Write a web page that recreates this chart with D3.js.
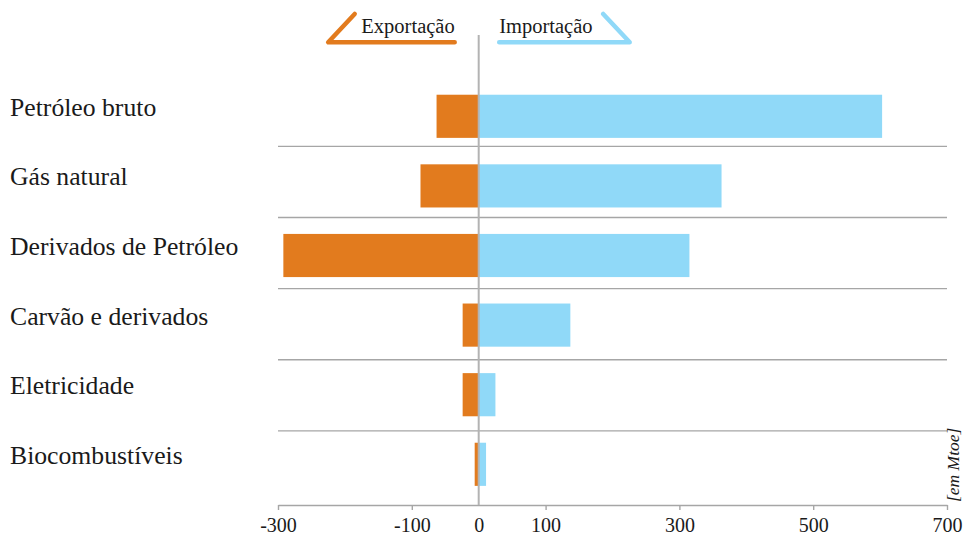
<!DOCTYPE html>
<html>
<head>
<meta charset="utf-8">
<script src="https://cdn.jsdelivr.net/npm/d3@7"></script>
<style>
  html, body { margin: 0; padding: 0; background: #fff; }
  svg { display: block; }
  text { font-family: "Liberation Serif", "Times New Roman", serif; fill: #1a1a1a; }
</style>
</head>
<body>
<svg id="chart" width="966" height="535"></svg>
<script>
// Energy trade by product, in Mtoe
const categories = ["Petróleo bruto", "Gás natural", "Derivados de Petróleo", "Carvão e derivados", "Eletricidade", "Biocombustíveis"];
const exportValues = [-63, -87, -292, -24, -24, -6];
const importValues = [603, 363, 315, 137, 25, 11];
const tickValues = [-300, -100, 0, 100, 300, 500, 700];
const legendLabels = ["Exportação", "Importação"];
const unitLabel = "[em Mtoe]";

const colors = { exp: "#e27b1e", imp: "#90d9f8", grid: "#a6a6a6", zero: "#b3b3b3" };
const serif = "'Liberation Serif', 'Times New Roman', serif";

const svg = d3.select("#chart");

const x = d3.scaleLinear().domain([-300, 700]).range([278, 947]);

// bar rows
const y = d3.scaleBand().domain(categories).range([81.5, 499.1]).paddingInner(0.38).paddingOuter(0.19);
// row dividers
const rows = d3.scaleBand().domain(categories).range([75.2, 502]).padding(0);

const axisY = 505;

// dividers between categories
svg.append("g").selectAll("line")
  .data(categories.slice(1))
  .join("line")
  .attr("x1", x.range()[0]).attr("x2", x.range()[1])
  .attr("y1", d => rows(d)).attr("y2", d => rows(d))
  .attr("stroke", colors.grid).attr("stroke-width", 1.4);

// export bars
svg.append("g").selectAll("rect")
  .data(categories)
  .join("rect")
  .attr("x", (d, i) => x(exportValues[i]))
  .attr("width", (d, i) => x(0) - x(exportValues[i]))
  .attr("y", d => y(d))
  .attr("height", y.bandwidth())
  .attr("fill", colors.exp);

// import bars
svg.append("g").selectAll("rect")
  .data(categories)
  .join("rect")
  .attr("x", x(0))
  .attr("width", (d, i) => x(importValues[i]) - x(0))
  .attr("y", d => y(d))
  .attr("height", y.bandwidth())
  .attr("fill", colors.imp);

// category labels
svg.append("g").selectAll("text")
  .data(categories)
  .join("text")
  .attr("x", 10)
  .attr("y", d => y(d) + y.bandwidth() / 2 - 0.5)
  .attr("font-size", 25.7)
  .text(d => d);

// x axis
const axis = d3.axisBottom(x).tickValues(tickValues).tickSize(5).tickSizeOuter(0).tickFormat(d => String(d));
const gAxis = svg.append("g")
  .attr("transform", `translate(0,${axisY})`)
  .call(axis)
  .attr("font-family", serif)
  .attr("font-size", 20);
gAxis.select(".domain").attr("stroke", colors.grid).attr("stroke-width", 1.4);
gAxis.selectAll(".tick line").attr("stroke", colors.grid).attr("stroke-width", 1.4)
  .attr("display", d => d === 0 ? "none" : null);
gAxis.selectAll(".tick text")
  .attr("y", 27).attr("dy", 0)
  .attr("fill", "#1a1a1a");

// zero line
svg.append("line")
  .attr("x1", x(0)).attr("x2", x(0))
  .attr("y1", 35).attr("y2", axisY)
  .attr("stroke", colors.zero).attr("stroke-width", 2);

// legend
const x0 = x(0);
const legend = svg.append("g");
legend.append("path")
  .attr("d", `M${x0 - 124},14 L${x0 - 150.5},42.3 L${x0 - 24},42.3`)
  .attr("fill", "none").attr("stroke", colors.exp).attr("stroke-width", 4.5)
  .attr("stroke-linecap", "round").attr("stroke-linejoin", "round");
legend.append("path")
  .attr("d", `M${x0 + 20.5},42.3 L${x0 + 151},42.3 L${x0 + 124.5},14`)
  .attr("fill", "none").attr("stroke", colors.imp).attr("stroke-width", 4.5)
  .attr("stroke-linecap", "round").attr("stroke-linejoin", "round");
legend.append("text")
  .attr("x", x0 - 24).attr("y", 33).attr("text-anchor", "end")
  .attr("font-size", 20.5).text(legendLabels[0]);
legend.append("text")
  .attr("x", x0 + 20.5).attr("y", 33)
  .attr("font-size", 20.5).text(legendLabels[1]);

// unit label
svg.append("text")
  .attr("transform", `translate(959,502) rotate(-90)`)
  .attr("font-size", 17.5).attr("font-style", "italic")
  .text(unitLabel);
</script>
</body>
</html>
